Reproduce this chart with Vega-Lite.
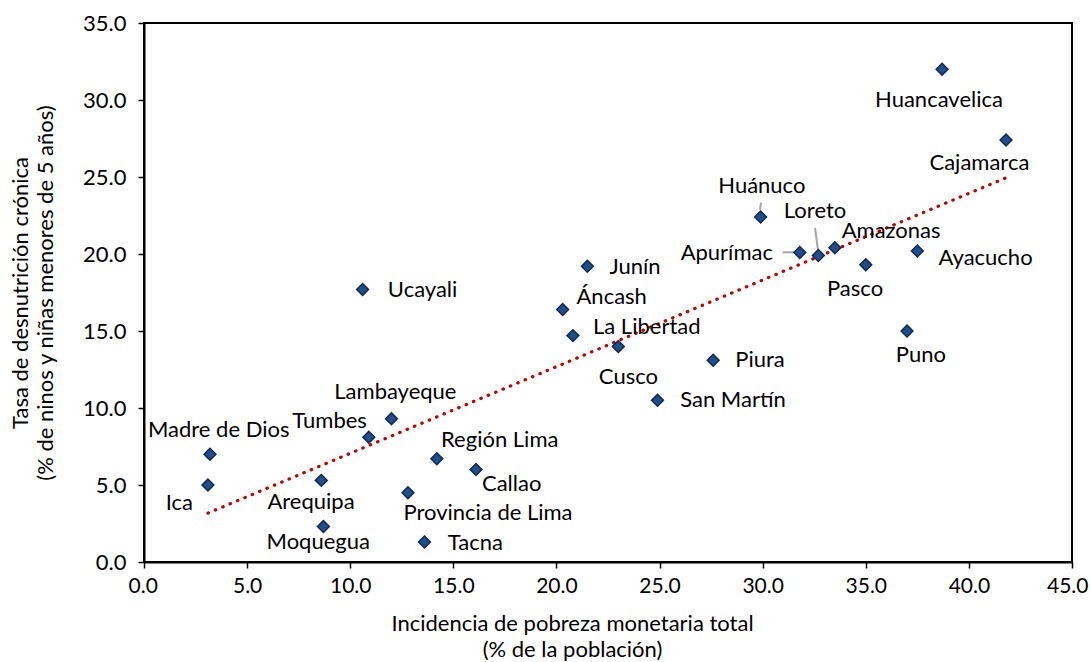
{
  "$schema": "https://vega.github.io/schema/vega-lite/v6.json",
  "width": 928,
  "height": 539,
  "autosize": {"type": "none"},
  "padding": {"left": 144, "top": 23, "right": 19, "bottom": 100},
  "background": "white",
  "config": {"view": {"stroke": "black", "strokeWidth": 2}, "font": "Lato"},
  "datasets": {
    "regions": [
      {"name": "Huancavelica", "pob": 38.7, "desn": 32.0, "lx": 38.55, "ly": 30.03},
      {"name": "Cajamarca", "pob": 41.8, "desn": 27.4, "lx": 40.51, "ly": 25.9},
      {"name": "Huánuco", "pob": 29.9, "desn": 22.4, "lx": 29.96, "ly": 24.42},
      {"name": "Loreto", "pob": 32.7, "desn": 19.9, "lx": 32.54, "ly": 22.81},
      {"name": "Apurímac", "pob": 31.8, "desn": 20.1, "lx": 28.26, "ly": 20.06},
      {"name": "Amazonas", "pob": 33.5, "desn": 20.4, "lx": 36.23, "ly": 21.49},
      {"name": "Ayacucho", "pob": 37.5, "desn": 20.2, "lx": 40.81, "ly": 19.74},
      {"name": "Pasco", "pob": 35.0, "desn": 19.3, "lx": 34.48, "ly": 17.73},
      {"name": "Puno", "pob": 37.0, "desn": 15.0, "lx": 37.67, "ly": 13.44},
      {"name": "Junín", "pob": 21.5, "desn": 19.2, "lx": 23.81, "ly": 19.14},
      {"name": "Ucayali", "pob": 10.6, "desn": 17.7, "lx": 13.51, "ly": 17.66},
      {"name": "Áncash", "pob": 20.3, "desn": 16.4, "lx": 22.68, "ly": 17.19},
      {"name": "La Libertad", "pob": 20.8, "desn": 14.7, "lx": 24.38, "ly": 15.28},
      {"name": "Cusco", "pob": 23.0, "desn": 14.0, "lx": 23.49, "ly": 12.03},
      {"name": "Piura", "pob": 27.6, "desn": 13.1, "lx": 29.87, "ly": 13.12},
      {"name": "San Martín", "pob": 24.9, "desn": 10.5, "lx": 28.56, "ly": 10.52},
      {"name": "Lambayeque", "pob": 12.0, "desn": 9.3, "lx": 12.19, "ly": 11.04},
      {"name": "Tumbes", "pob": 10.9, "desn": 8.1, "lx": 9.0, "ly": 9.18},
      {"name": "Madre de Dios", "pob": 3.2, "desn": 7.0, "lx": 3.62, "ly": 8.57},
      {"name": "Ica", "pob": 3.1, "desn": 5.0, "lx": 1.71, "ly": 3.81},
      {"name": "Arequipa", "pob": 8.6, "desn": 5.3, "lx": 8.1, "ly": 3.92},
      {"name": "Moquegua", "pob": 8.7, "desn": 2.3, "lx": 8.45, "ly": 1.32},
      {"name": "Región Lima", "pob": 14.2, "desn": 6.7, "lx": 17.25, "ly": 7.92},
      {"name": "Callao", "pob": 16.1, "desn": 6.0, "lx": 17.83, "ly": 5.06},
      {"name": "Provincia de Lima", "pob": 12.8, "desn": 4.5, "lx": 16.68, "ly": 3.16},
      {"name": "Tacna", "pob": 13.6, "desn": 1.3, "lx": 16.07, "ly": 1.21}
    ],
    "leaders": [
      {"name": "Huánuco", "x1": 29.92, "y1": 23.33, "x2": 29.87, "y2": 22.86},
      {"name": "Loreto", "x1": 32.54, "y1": 21.69, "x2": 32.7, "y2": 20.06},
      {"name": "Apurímac", "x1": 30.97, "y1": 20.11, "x2": 31.57, "y2": 20.11}
    ]
  },
  "layer": [
    {
      "data": {"name": "regions"},
      "transform": [{"regression": "desn", "on": "pob"}],
      "mark": {"type": "line", "color": "#C00000", "strokeWidth": 3.2, "strokeDash": [0.5, 7.5], "strokeCap": "round"},
      "encoding": {
        "x": {
          "field": "pob", "type": "quantitative",
          "scale": {"domain": [0, 45], "nice": false, "zero": true},
          "axis": {
            "values": [0, 5, 10, 15, 20, 25, 30, 35, 40, 45],
            "format": ".1f",
            "grid": false,
            "domainColor": "black", "domainWidth": 2,
            "tickColor": "black", "tickWidth": 1.5, "tickSize": 6,
            "labelFont": "Lato", "labelFontSize": 21, "labelColor": "black", "labelPadding": 7,
            "labelFlush": true, "labelFlushOffset": 16,
            "title": ["Incidencia de pobreza monetaria total", "(% de la población)"],
            "titleFont": "Lato", "titleFontSize": 22, "titleFontWeight": "normal", "titleColor": "black",
            "titlePadding": 17, "titleLineHeight": 26, "titleX": 428, "titleAlign": "center"
          }
        },
        "y": {
          "field": "desn", "type": "quantitative",
          "scale": {"domain": [0, 35], "nice": false, "zero": true},
          "axis": {
            "values": [0, 5, 10, 15, 20, 25, 30, 35],
            "format": ".1f",
            "grid": false,
            "domainColor": "black", "domainWidth": 2,
            "tickColor": "black", "tickWidth": 1.5, "tickSize": 6,
            "labelFont": "Lato", "labelFontSize": 22, "labelColor": "black", "labelPadding": 12,
            "labelFlush": false,
            "title": ["Tasa de desnutrición crónica", "(% de ninos y niñas menores de 5 años)"],
            "titleFont": "Lato", "titleFontSize": 22, "titleFontWeight": "normal", "titleColor": "black",
            "titlePadding": 25, "titleLineHeight": 25
          }
        }
      }
    },
    {
      "data": {"name": "leaders"},
      "mark": {"type": "rule", "color": "#A6A6A6", "strokeWidth": 2},
      "encoding": {
        "x": {"field": "x1", "type": "quantitative"},
        "y": {"field": "y1", "type": "quantitative"},
        "x2": {"field": "x2"},
        "y2": {"field": "y2"}
      }
    },
    {
      "data": {"name": "regions"},
      "mark": {"type": "point", "shape": "diamond", "filled": true, "fill": "#1F4E8A", "stroke": "#0E2A55", "strokeWidth": 1.5, "size": 140, "opacity": 1},
      "encoding": {
        "x": {"field": "pob", "type": "quantitative"},
        "y": {"field": "desn", "type": "quantitative"}
      }
    },
    {
      "data": {"name": "regions"},
      "mark": {"type": "text", "font": "Lato", "fontSize": 22, "color": "black", "align": "center", "baseline": "middle"},
      "encoding": {
        "x": {"field": "lx", "type": "quantitative"},
        "y": {"field": "ly", "type": "quantitative"},
        "text": {"field": "name"}
      }
    }
  ]
}
